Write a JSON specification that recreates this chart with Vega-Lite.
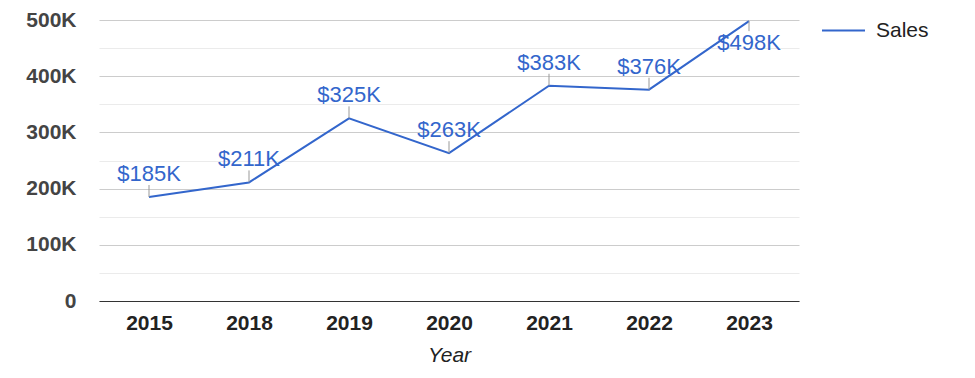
{
  "$schema": "https://vega.github.io/schema/vega-lite/v6.json",
  "width": 700,
  "height": 281,
  "autosize": {"type": "none"},
  "padding": {"left": 99, "top": 20, "right": 176, "bottom": 77},
  "background": "white",
  "data": {
    "values": [
      {"Year": "2015", "Sales": 185000, "Label": "$185K"},
      {"Year": "2018", "Sales": 211000, "Label": "$211K"},
      {"Year": "2019", "Sales": 325000, "Label": "$325K"},
      {"Year": "2020", "Sales": 263000, "Label": "$263K"},
      {"Year": "2021", "Sales": 383000, "Label": "$383K"},
      {"Year": "2022", "Sales": 376000, "Label": "$376K"},
      {"Year": "2023", "Sales": 498000, "Label": "$498K"}
    ]
  },
  "config": {
    "font": "Liberation Sans",
    "view": {"stroke": null}
  },
  "encoding": {
    "x": {
      "field": "Year",
      "type": "ordinal",
      "sort": null,
      "scale": {"type": "point", "padding": 0.5},
      "axis": {
        "title": "Year",
        "titleFont": "Liberation Sans",
        "titleFontStyle": "italic",
        "titleFontWeight": "normal",
        "titleFontSize": 21,
        "titleColor": "#222222",
        "titlePadding": 11,
        "labelAngle": 0,
        "labelFont": "Liberation Sans",
        "labelFontWeight": "bold",
        "labelFontSize": 21,
        "labelColor": "#222222",
        "labelPadding": 11,
        "ticks": false,
        "domain": true,
        "domainColor": "#333333",
        "domainWidth": 1,
        "grid": false
      }
    }
  },
  "resolve": {"axis": {"y": "independent"}},
  "layer": [
    {
      "mark": {"type": "line", "color": "#3366cc", "strokeWidth": 2},
      "encoding": {
        "y": {
          "field": "Sales",
          "type": "quantitative",
          "scale": {"domain": [0, 500000], "nice": false},
          "axis": {
            "orient": "left",
            "title": null,
            "values": [0, 100000, 200000, 300000, 400000, 500000],
            "labelExpr": "datum.value == 0 ? '0' : format(datum.value / 1000, 'd') + 'K'",
            "labelFont": "Liberation Sans",
            "labelFontWeight": "bold",
            "labelFontSize": 21,
            "labelColor": "#444444",
            "labelPadding": 23,
            "ticks": false,
            "domain": false,
            "grid": true,
            "gridColor": "#cccccc",
            "gridWidth": 1
          }
        },
        "color": {
          "datum": "Sales",
          "type": "nominal",
          "scale": {"range": ["#3366cc"]},
          "legend": {
            "title": null,
            "orient": "none",
            "legendX": 722,
            "legendY": -12,
            "symbolType": "stroke",
            "symbolSize": 1849,
            "symbolStrokeWidth": 2,
            "labelFont": "Liberation Sans",
            "labelFontSize": 21,
            "labelColor": "#222222",
            "labelOffset": 10
          }
        }
      }
    },
    {
      "mark": {"type": "rule", "color": "#ebebeb", "opacity": 0},
      "encoding": {
        "y": {
          "field": "Sales",
          "type": "quantitative",
          "axis": {
            "orient": "left",
            "title": null,
            "values": [50000, 150000, 250000, 350000, 450000],
            "labels": false,
            "ticks": false,
            "domain": false,
            "grid": true,
            "gridColor": "#ebebeb",
            "gridWidth": 1
          }
        }
      }
    },
    {
      "transform": [{"filter": "datum.Sales < 450000"}],
      "mark": {"type": "rule", "color": "#999999", "strokeWidth": 1, "y2Offset": -12},
      "encoding": {
        "y": {"field": "Sales", "type": "quantitative", "axis": null},
        "y2": {"field": "Sales"}
      }
    },
    {
      "transform": [{"filter": "datum.Sales >= 450000"}],
      "mark": {"type": "rule", "color": "#999999", "strokeWidth": 1, "y2Offset": 10},
      "encoding": {
        "y": {"field": "Sales", "type": "quantitative", "axis": null},
        "y2": {"field": "Sales"}
      }
    },
    {
      "transform": [{"filter": "datum.Sales < 450000"}],
      "mark": {"type": "text", "color": "#3366cc", "fontSize": 22, "font": "Liberation Sans", "baseline": "alphabetic", "dy": -16},
      "encoding": {
        "y": {"field": "Sales", "type": "quantitative", "axis": null},
        "text": {"field": "Label"}
      }
    },
    {
      "transform": [{"filter": "datum.Sales >= 450000"}],
      "mark": {"type": "text", "color": "#3366cc", "fontSize": 22, "font": "Liberation Sans", "baseline": "alphabetic", "dy": 29},
      "encoding": {
        "y": {"field": "Sales", "type": "quantitative", "axis": null},
        "text": {"field": "Label"}
      }
    }
  ]
}
